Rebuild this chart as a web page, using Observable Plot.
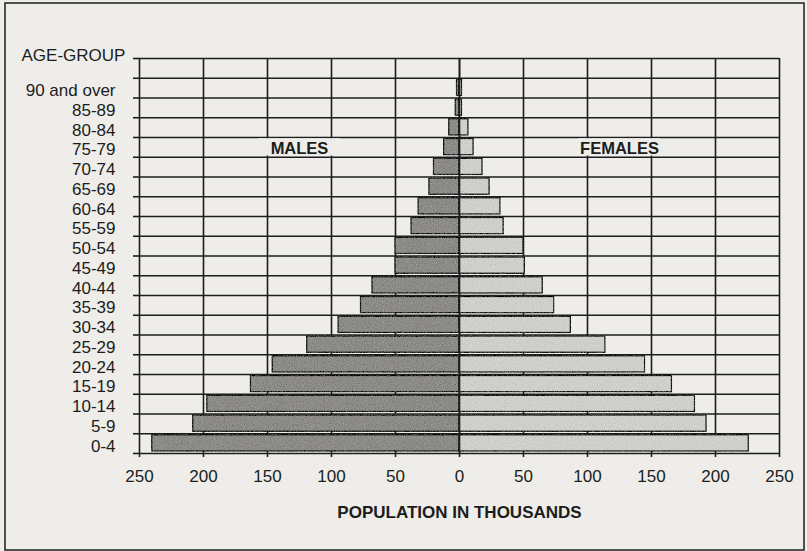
<!DOCTYPE html>
<html>
<head>
<meta charset="utf-8">
<script src="https://cdn.jsdelivr.net/npm/d3@7"></script>
<script src="https://cdn.jsdelivr.net/npm/@observablehq/plot@0.6"></script>
<style>
  html, body { margin: 0; padding: 0; background: #eeede9; }
</style>
</head>
<body>
<div id="chart"></div>
<script>
// Age groups, top to bottom
const ageGroups = ["90 and over","85-89","80-84","75-79","70-74","65-69","60-64","55-59","50-54","45-49","40-44","35-39","30-34","25-29","20-24","15-19","10-14","5-9","0-4"];
// Population in thousands
const males   = [2, 3, 8, 12, 20, 23.5, 32, 37.5, 50, 50, 68, 77, 94.5, 119, 146, 163, 197, 208, 240];
const females = [2, 2, 7, 11, 18, 23.5, 32, 34.5, 50, 51, 65, 74, 87, 114, 145, 166, 184, 193, 226];
const xTicks  = [-250, -200, -150, -100, -50, 0, 50, 100, 150, 200, 250];
const sideLabels = ["MALES", "FEMALES"];
const sideLabelRow = "75-79";
const yTitle = "AGE-GROUP";
const xTitle = "POPULATION IN THOUSANDS";

const n = ageGroups.length;
const nRows = n + 1; // one empty row on top
const rows = ageGroups.map((g, k) => ({group: g, row: n - 1 - k, male: males[k], female: females[k]}));
const xMax = d3.max(xTicks);
const labelRow = rows.find(r => r.group === sideLabelRow).row;
const sides = sideLabels.map((t, i) => ({text: t, x: (i === 0 ? -1 : 1) * xMax / 2, row: labelRow}));
const halfBox = xMax * 0.128;

const ink = "#1c1c1c";
const paper = "#eeede9";

const chart = Plot.plot({
  width: 807,
  height: 551,
  marginLeft: 139,
  marginRight: 28,
  marginTop: 58,
  marginBottom: 98,
  style: {fontFamily: "'Liberation Sans', Arial, sans-serif", fontSize: "16px", color: ink, background: paper},
  x: {domain: [-xMax, xMax], axis: null},
  y: {domain: [0, nRows], axis: null},
  marks: [
    // grid
    Plot.ruleX(xTicks, {stroke: ink, strokeWidth: 1.6}),
    Plot.ruleY(d3.range(0, nRows + 1), {stroke: ink, strokeWidth: 1.6}),
    // bars
    Plot.rectX(rows, {x1: 0, x2: d => -d.male, y1: "row", y2: d => d.row + 1, insetTop: 1.5, insetBottom: 2, fill: "#8b8a87", stroke: ink, strokeWidth: 1.3, ariaDescription: "males"}),
    Plot.rectX(rows, {x1: 0, x2: "female", y1: "row", y2: d => d.row + 1, insetTop: 1.5, insetBottom: 2, fill: "#cfcecb", stroke: ink, strokeWidth: 1.3, ariaDescription: "females"}),
    Plot.ruleX([0], {stroke: ink, strokeWidth: 1.6}),
    // left tick extensions
    Plot.axisY(d3.range(0, nRows + 1), {anchor: "left", tickSize: 6, tickFormat: () => "", label: null, stroke: ink, strokeWidth: 1.6}),
    // x axis
    Plot.axisX(xTicks, {anchor: "bottom", tickSize: 4, tickPadding: 12, tickFormat: d => Math.abs(d), label: null, fontSize: 17, stroke: ink, strokeWidth: 1.6}),
    // y labels
    Plot.text(rows, {frameAnchor: "left", y: d => d.row + 0.5, text: "group", textAnchor: "end", dx: -24, dy: 2.5, fontSize: 17, fill: ink, style: "letter-spacing:1px"}),
    // side labels with blank background
    Plot.rect(sides, {x1: d => d.x - halfBox, x2: d => d.x + halfBox, y1: "row", y2: d => d.row + 1, insetTop: 1.2, insetBottom: 1.2, fill: paper}),
    Plot.text(sides, {x: "x", y: d => d.row + 0.5, text: "text", fontWeight: "bold", fontSize: 16.5, dy: 1, fill: ink, style: "letter-spacing:0.8px"}),
    // y title
    Plot.text([yTitle], {frameAnchor: "top-left", dx: -118, dy: -10, textAnchor: "start", fontSize: 17, fill: ink, style: "letter-spacing:0.4px"}),
    // x title
    Plot.text([xTitle], {frameAnchor: "bottom", dy: 64.5, fontWeight: "bold", fontSize: 17, fill: ink, style: "letter-spacing:0.55px"})
  ]
});

const svg = d3.select(chart);
const defs = svg.insert("defs", ":first-child");
const f = defs.append("filter").attr("id", "grain");
f.append("feTurbulence").attr("type", "fractalNoise").attr("baseFrequency", "0.9").attr("numOctaves", 2).attr("seed", 7).attr("result", "t");
f.append("feColorMatrix").attr("in", "t").attr("type", "matrix")
  .attr("values", "0.33 0.33 0.33 0 0  0.33 0.33 0.33 0 0  0.33 0.33 0.33 0 0  0 0 0 0 1").attr("result", "g");
f.append("feComposite").attr("in", "SourceGraphic").attr("in2", "g").attr("operator", "arithmetic")
  .attr("k1", 0).attr("k2", 1).attr("k3", 0.45).attr("k4", -0.22).attr("result", "c");
f.append("feComposite").attr("in", "c").attr("in2", "SourceGraphic").attr("operator", "in");
svg.selectAll("g[aria-description=males], g[aria-description=females]").attr("filter", "url(#grain)");

svg.append("rect")
  .attr("x", 5).attr("y", 3).attr("width", 799).attr("height", 547)
  .attr("fill", "none").attr("stroke", ink).attr("stroke-width", 1.5);

document.getElementById("chart").appendChild(chart);
</script>
</body>
</html>
